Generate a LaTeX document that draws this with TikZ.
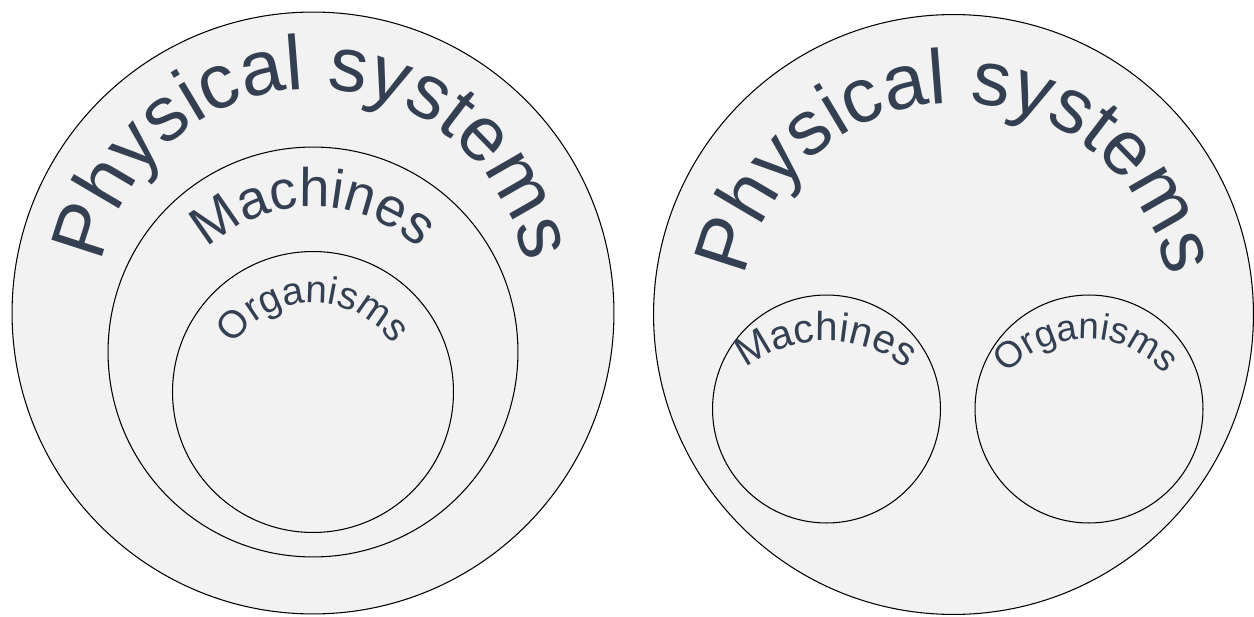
\documentclass[tikz,border=0pt]{standalone}
\usepackage{fontspec}
\setmainfont{Liberation Sans}
\usetikzlibrary{decorations.text}
\definecolor{txt}{RGB}{52,64,82}
\definecolor{disc}{RGB}{242,242,242}
\newcommand\fontPS{\fontsize{44}{52}\selectfont\color{txt}}
\newcommand\fontML{\fontsize{31}{37}\selectfont\color{txt}}
\newcommand\fontOL{\fontsize{22}{26}\selectfont\color{txt}}
\newcommand\fontMR{\fontsize{23}{28}\selectfont\color{txt}}
\newcommand\fontOR{\fontsize{21}{25}\selectfont\color{txt}}
\begin{document}
\begin{tikzpicture}[x=0.02cm,y=0.02cm,
  setdisc/.style={circle,draw=black,line width=0.6pt,fill=disc,inner sep=0pt},
  arctext/.style={decorate,decoration={text along path,text align=center,text={#1}}}]
\useasboundingbox (0,0) rectangle (1254,616);
% left diagram
\node[setdisc,minimum size=12.04cm] (physL) at (313,303) {};
\node[setdisc,minimum size=8.2cm] (machL) at (313,264) {};
\node[setdisc,minimum size=5.62cm] (orgL) at (313,224) {};
% right diagram
\node[setdisc,minimum size=12.0cm] (physR) at (953.5,301.5) {};
\node[setdisc,minimum size=4.56cm] (machR) at (826.5,207) {};
\node[setdisc,minimum size=4.56cm] (orgR) at (1089,207) {};
% text arcs
\coordinate (tPL) at (313,312);
\coordinate (tML) at (313,254);
\coordinate (tOL) at (313,217);
\coordinate (tPR) at (956,298);
\coordinate (tMR) at (826,145);
\coordinate (tOR) at (1086,172);
\path[arctext={|\fontPS|Physical systems}] ([shift={(180:215)}]tPL) arc[start angle=180,end angle=0,radius=215];
\path[arctext={|\fontML|Machines}] ([shift={(180:155)}]tML) arc[start angle=180,end angle=0,radius=155];
\path[arctext={|\fontOL|Organisms}] ([shift={(180:96)}]tOL) arc[start angle=180,end angle=0,radius=96];
\path[arctext={|\fontPS|Physical systems}] ([shift={(180:215)}]tPR) arc[start angle=180,end angle=0,radius=215];
\path[arctext={|\fontMR|Machines}] ([shift={(180:130)}]tMR) arc[start angle=180,end angle=0,radius=130];
\path[arctext={|\fontOR|Organisms}] ([shift={(180:105)}]tOR) arc[start angle=180,end angle=0,radius=105];
\end{tikzpicture}
\end{document}
